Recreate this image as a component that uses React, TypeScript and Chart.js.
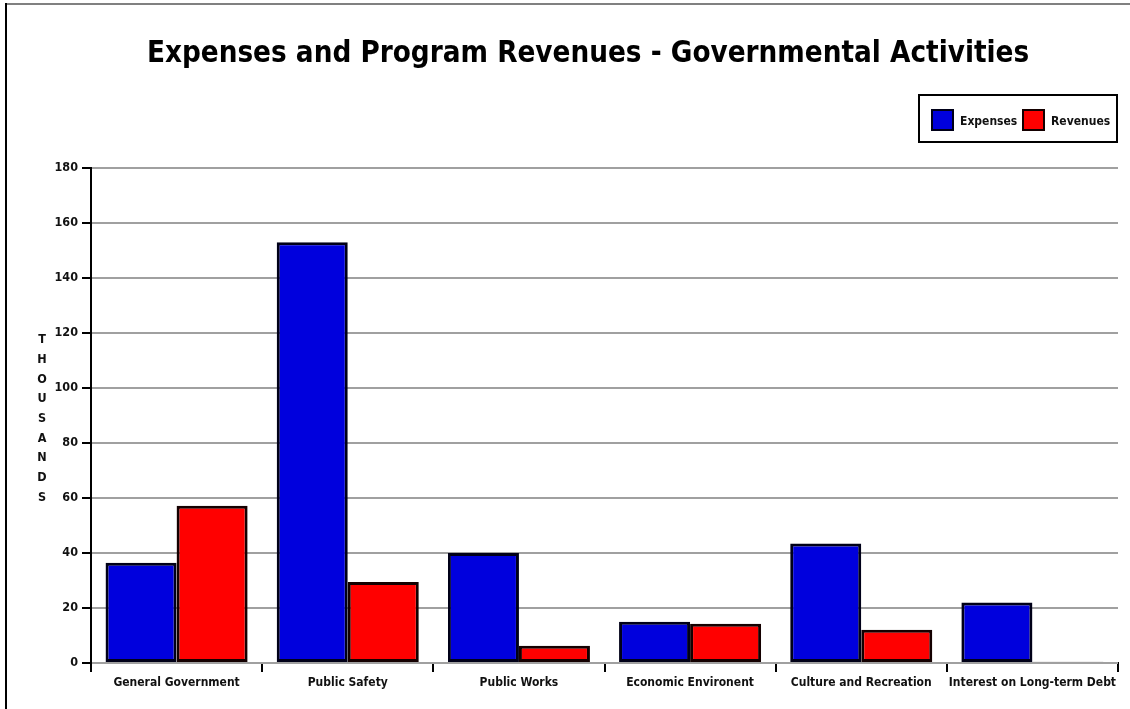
import React, { useEffect, useRef } from "react";
import { Chart, registerables } from "chart.js";

Chart.register(...registerables);

const categories = [
  "General Government",
  "Public Safety",
  "Public Works",
  "Economic Environent",
  "Culture and Recreation",
  "Interest on Long-term Debt",
];
const expenses = [36.5, 153, 40, 15, 43.5, 22];
const revenues = [57.2, 29.5, 6.3, 14.3, 12.1, 0.5];
const seriesNames = ["Expenses", "Revenues"];
const seriesColors = ["#0000DD", "#FF0000"];
const seriesBorders = ["#000018", "#140000"];
const yMin = 0;
const yMax = 180;
const yStep = 20;
const titleText = "Expenses and Program Revenues - Governmental Activities";
const yAxisTitle = "THOUSANDS";

const LABEL_FONT = '"DejaVu Sans Condensed", "DejaVu Sans", sans-serif';
const TITLE_FONT = '"DejaVu Sans Condensed", "DejaVu Sans", sans-serif';

const decorPlugin = {
  id: "decor",
  beforeDraw(chart: any) {
    const ctx = chart.ctx as CanvasRenderingContext2D;
    ctx.save();
    ctx.fillStyle = "#ffffff";
    ctx.fillRect(0, 0, chart.width, chart.height);
    ctx.fillStyle = "#808080";
    ctx.fillRect(5, 3, chart.width - 5, 2);
    ctx.fillStyle = "#000000";
    ctx.fillRect(5, 3, 2, chart.height - 3);
    ctx.restore();
  },
  afterDraw(chart: any) {
    const ctx = chart.ctx as CanvasRenderingContext2D;
    ctx.save();
    // title
    ctx.fillStyle = "#000";
    ctx.font = `bold 29.3px ${TITLE_FONT}`;
    ctx.textAlign = "center";
    ctx.textBaseline = "alphabetic";
    ctx.fillText(titleText, 588, 62);

    // vertical stacked axis title
    ctx.font = `bold 12.5px ${LABEL_FONT}`;
    ctx.fillStyle = "#111";
    ctx.textBaseline = "middle";
    yAxisTitle.split("").forEach((ch, i) => {
      ctx.fillText(ch, 42, 340 + i * 19.7);
    });

    // legend box
    const lx = 919, ly = 95, lw = 198, lh = 47;
    ctx.fillStyle = "#fff";
    ctx.fillRect(lx, ly, lw, lh);
    ctx.strokeStyle = "#000";
    ctx.lineWidth = 2;
    ctx.strokeRect(lx, ly, lw, lh);
    const items = chart.data.datasets.map((d: any) => ({
      label: d.label,
      fill: d.backgroundColor,
      border: d.borderColor,
    }));
    const swatchX = [931, 1022];
    ctx.font = `bold 12px ${LABEL_FONT}`;
    ctx.textAlign = "left";
    ctx.textBaseline = "middle";
    items.forEach((it: any, i: number) => {
      const sx = swatchX[i];
      ctx.fillStyle = it.fill;
      ctx.fillRect(sx, 109, 23, 22);
      ctx.strokeStyle = it.border;
      ctx.lineWidth = 2;
      ctx.strokeRect(sx + 1, 110, 21, 20);
      ctx.fillStyle = "#111";
      ctx.fillText(it.label, sx + 29, 122);
    });
    ctx.restore();
  },
};

export default function App() {
  const ref = useRef<HTMLCanvasElement | null>(null);

  useEffect(() => {
    if (!ref.current) return;
    const chart = new Chart(ref.current, {
      type: "bar",
      data: {
        labels: categories,
        datasets: [
          {
            label: seriesNames[0],
            data: expenses,
            backgroundColor: seriesColors[0],
            borderColor: seriesBorders[0],
            borderWidth: 3,
            borderSkipped: false,
            categoryPercentage: 0.83,
            barPercentage: 1.0,
          },
          {
            label: seriesNames[1],
            data: revenues,
            backgroundColor: seriesColors[1],
            borderColor: seriesBorders[1],
            borderWidth: 3,
            borderSkipped: false,
            categoryPercentage: 0.83,
            barPercentage: 1.0,
          },
        ],
      },
      options: {
        responsive: false,
        animation: false,
        layout: { padding: { top: 168, left: 0, right: 12, bottom: 0 } },
        plugins: {
          legend: { display: false },
          title: { display: false },
          tooltip: { enabled: false },
        },
        scales: {
          x: {
            afterFit: (scale: any) => {
              scale.height = 46;
            },
            grid: {
              drawOnChartArea: false,
              drawTicks: true,
              tickLength: 9,
              color: "#000",
              lineWidth: 2,
            },
            border: { color: "#000", width: 2, z: -1 },
            ticks: {
              color: "#111",
              padding: 4,
              maxRotation: 0,
              autoSkip: false,
              font: { family: LABEL_FONT, size: 12, weight: "bold" },
            },
          },
          y: {
            min: yMin,
            max: yMax,
            afterFit: (scale: any) => {
              scale.width = 91;
            },
            grid: {
              color: "#a0a0a0",
              lineWidth: 2,
              tickColor: "#000",
              tickLength: 9,
            },
            border: { color: "#000", width: 2 },
            ticks: {
              stepSize: yStep,
              color: "#111",
              padding: 4,
              font: { family: LABEL_FONT, size: 12.5, weight: "bold" },
            },
          },
        },
      },
      plugins: [decorPlugin],
    });
    return () => chart.destroy();
  }, []);

  return (
    <div style={{ position: "fixed", left: 0, top: 0, width: 1130, height: 709 }}>
      <canvas ref={ref} width={1130} height={709} style={{ display: "block" }} />
    </div>
  );
}
